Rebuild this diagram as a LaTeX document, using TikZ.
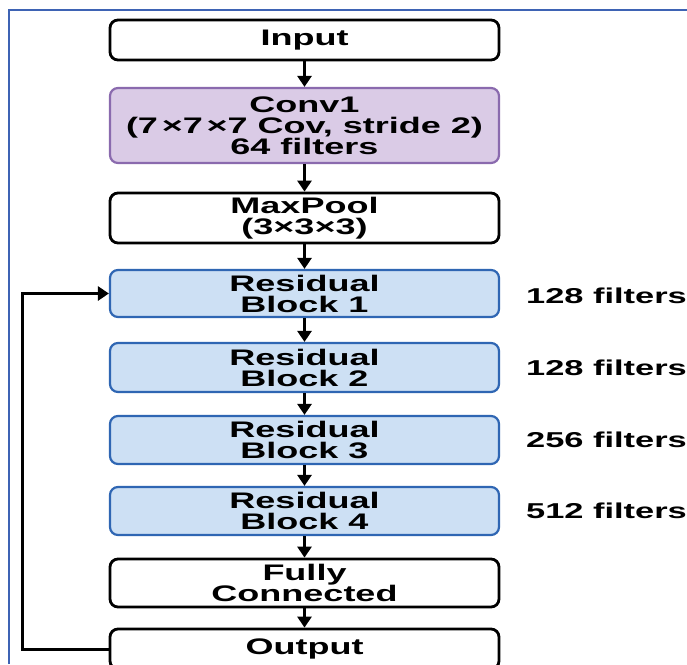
\documentclass[tikz,border=0pt]{standalone}
\usepackage{fontspec}
\setmainfont{Liberation Sans}[FakeStretch=1.6]
\usetikzlibrary{arrows.meta}

\definecolor{frameblue}{HTML}{3E63B4}
\definecolor{convfill}{HTML}{DACBE6}
\definecolor{convline}{HTML}{8A6AAE}
\definecolor{resfill}{HTML}{CDE0F4}
\definecolor{resline}{HTML}{2F66B3}

\tikzset{
  box/.style={draw=black, line width=2.8pt, rounded corners=8pt, fill=white,
    minimum width=389pt, inner sep=0pt, align=center,
    font=\fontsize{22.5}{21}\selectfont\bfseries},
  convbox/.style={box, draw=convline, fill=convfill, line width=2.2pt},
  resbox/.style={box, draw=resline, fill=resfill, line width=2.2pt},
  flow/.style={line width=3pt, -{Triangle[length=11pt,width=14pt]}},
  filterlabel/.style={anchor=west, inner sep=0pt,
    font=\fontsize{21.5}{20}\selectfont\bfseries}
}

\begin{document}
\begin{tikzpicture}[x=1pt,y=-1pt]
  \useasboundingbox (0,0) rectangle (687,664);
  \fill[white] (0,0) rectangle (687,664);

  % frame lines along the top and left edge
  \draw[frameblue, line width=2pt] (8.5,664) -- (8.5,9.5) -- (687,9.5);

  % layer stack
  \node[box, minimum height=40pt]     (inp)  at (304.5,40)    {Input};
  \node[convbox, minimum height=75pt] (conv) at (304.5,125.5) {Conv1\\(7\,×7\,×7 Cov, stride 2)\\64 filters};
  \node[box, minimum height=50pt]     (pool) at (304.5,218)   {MaxPool\\(3×3×3)};
  \node[resbox, minimum height=47pt]  (rb1)  at (304.5,293.5) {Residual\\Block 1};
  \node[resbox, minimum height=49pt]  (rb2)  at (304.5,367.5) {Residual\\Block 2};
  \node[resbox, minimum height=48pt]  (rb3)  at (304.5,440)   {Residual\\Block 3};
  \node[resbox, minimum height=48pt]  (rb4)  at (304.5,511)   {Residual\\Block 4};
  \node[box, minimum height=48pt]     (fc)   at (304.5,583)   {Fully\\Connected};
  \node[box, minimum height=40pt]     (out)  at (304.5,649)   {Output};

  % filter counts beside the residual blocks
  \node[filterlabel] (f1) at (526,296) {128 filters};
  \node[filterlabel] (f2) at (526,368) {128 filters};
  \node[filterlabel] (f3) at (526,440) {256 filters};
  \node[filterlabel] (f4) at (526,511) {512 filters};

  % forward connections
  \draw[flow] (inp)  -- (conv);
  \draw[flow] (conv) -- (pool);
  \draw[flow] (pool) -- (rb1);
  \draw[flow] (rb1)  -- (rb2);
  \draw[flow] (rb2)  -- (rb3);
  \draw[flow] (rb3)  -- (rb4);
  \draw[flow] (rb4)  -- (fc);
  \draw[flow] (fc)   -- (out);

  % feedback loop from the output back to the first residual block
  \coordinate (loop) at (22,0);
  \draw[flow] (out.west) -- (out.west -| loop) -- (loop |- rb1.west) -- (rb1.west);
\end{tikzpicture}
\end{document}
